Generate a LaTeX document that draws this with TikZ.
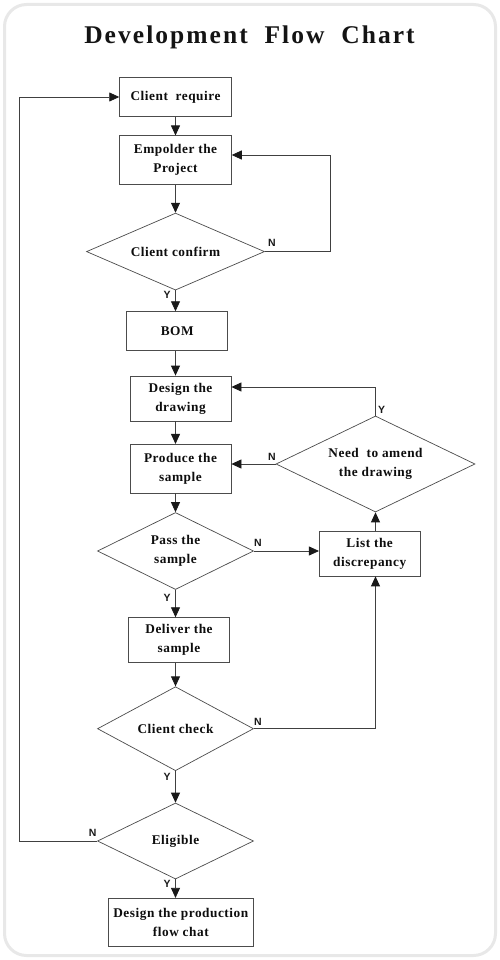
\documentclass[tikz,border=0pt]{standalone}
\usepackage{fontspec}
\setmainfont{Liberation Serif}
\newfontfamily\lblfont{Liberation Sans}
\newfontfamily\nodefont[LetterSpace=4]{Liberation Serif}
\newfontfamily\titlefont[LetterSpace=8]{Liberation Serif}
\usetikzlibrary{shapes.geometric,arrows.meta}
\tikzset{
  box/.style={draw=black!70, line width=0.8pt, inner sep=0pt, align=center,
    text=black!95, font=\nodefont\bfseries\fontsize{13.3}{19}\selectfont},
  dia/.style={diamond, draw=black!70, line width=0.7pt, inner sep=0pt, align=center,
    text=black!95, font=\nodefont\bfseries\fontsize{13.3}{19}\selectfont, shape aspect=2.2},
  flow/.style={draw=black!75, line width=0.8pt, -{Triangle[length=10pt,width=9pt,fill=black!90,color=black!90]}},
  lbl/.style={font=\lblfont\bfseries\fontsize{10.5}{12}\selectfont, text=black!90},
}
\begin{document}
\begin{tikzpicture}[x=1pt,y=-1pt]
\useasboundingbox (0,0) rectangle (500,960);
\draw[line width=3pt, draw=gray!18, fill=white, rounded corners=22pt] (4.5,4.5) rectangle (495.5,955.5);
\node[anchor=base, font=\titlefont\bfseries\fontsize{25.5}{30}\selectfont, text=black!92] (title) at (249.5,44) {Development\ \ Flow\ \ Chart};

\node[box, minimum width=111.7pt, minimum height=38.6pt] (cr) at (175.5,97) {Client\ \ require};
\node[box, minimum width=111.7pt, minimum height=48.3pt] (ep) at (175.5,160) {Empolder the\\Project};
\node[dia, minimum width=178pt, minimum height=77pt] (cc) at (175.5,251.6) {Client confirm};
\node[box, minimum width=101pt, minimum height=39pt] (bom) at (177.2,331.2) {BOM};
\node[box, minimum width=101pt, minimum height=45pt] (dd) at (180.5,398.5) {Design the\\drawing};
\node[box, minimum width=101pt, minimum height=48.7pt] (ps) at (180.5,468.7) {Produce the\\sample};
\node[dia, minimum width=199pt, minimum height=96pt] (na) at (375.5,464) {Need\ \ to amend\\the drawing};
\node[dia, minimum width=156pt, minimum height=77pt] (pa) at (175.5,551) {Pass the\\sample};
\node[box, minimum width=100.7pt, minimum height=44.3pt] (ld) at (369.7,553.8) {List the\\discrepancy};
\node[box, minimum width=100.6pt, minimum height=44.6pt] (dl) at (179,640) {Deliver the\\sample};
\node[dia, minimum width=156pt, minimum height=84pt] (ck) at (175.5,728.7) {Client check};
\node[dia, minimum width=156pt, minimum height=76pt] (el) at (175.5,841) {Eligible};
\node[box, minimum width=145pt, minimum height=48.4pt] (dp) at (180.8,922.5) {Design the production\\flow chat};

\coordinate (c1) at (330,155);
\coordinate (c2) at (375.5,387);
\coordinate (c3) at (19.3,97);

\draw[flow] (cr.south) -- (ep.north);
\draw[flow] (ep.south) -- (cc.north);
\draw[flow] (cc.south) -- (cc.south |- bom.north);
\draw[flow] (bom.south -| cc.south) -- (dd.north -| cc.south);
\draw[flow] (dd.south -| cc.south) -- (ps.north -| cc.south);
\draw[flow] (ps.south -| cc.south) -- (pa.north);
\draw[flow] (pa.south) -- (dl.north -| pa.south);
\draw[flow] (dl.south -| ck.north) -- (ck.north);
\draw[flow] (ck.south) -- (el.north);
\draw[flow] (el.south) -- (el.south |- dp.north);

\draw[flow] (cc.east) -| (c1) -- (c1 -| ep.east);
\draw[flow] (na.north) -- (c2) -- (c2 -| dd.east);
\draw[flow] (na.west) -- (na.west -| ps.east);
\draw[flow] (pa.east) -- (pa.east -| ld.west);
\draw[flow] (ld.north -| na.south) -- (na.south);
\draw[flow] (ck.east) -| (ld.south -| na.south);
\draw[flow] (el.west) -| (c3) -- (cr.west);

\node[lbl] (n1) at (272,243) {N};
\node[lbl] (n2) at (272,456.7) {N};
\node[lbl] (n3) at (258,542.7) {N};
\node[lbl] (n4) at (258,721.7) {N};
\node[lbl] (n5) at (92.7,833.3) {N};
\node[lbl] (y1) at (167,295) {Y};
\node[lbl] (y2) at (381.7,410) {Y};
\node[lbl] (y3) at (167,598) {Y};
\node[lbl] (y4) at (167,776.7) {Y};
\node[lbl] (y5) at (167,884) {Y};
\end{tikzpicture}
\end{document}
